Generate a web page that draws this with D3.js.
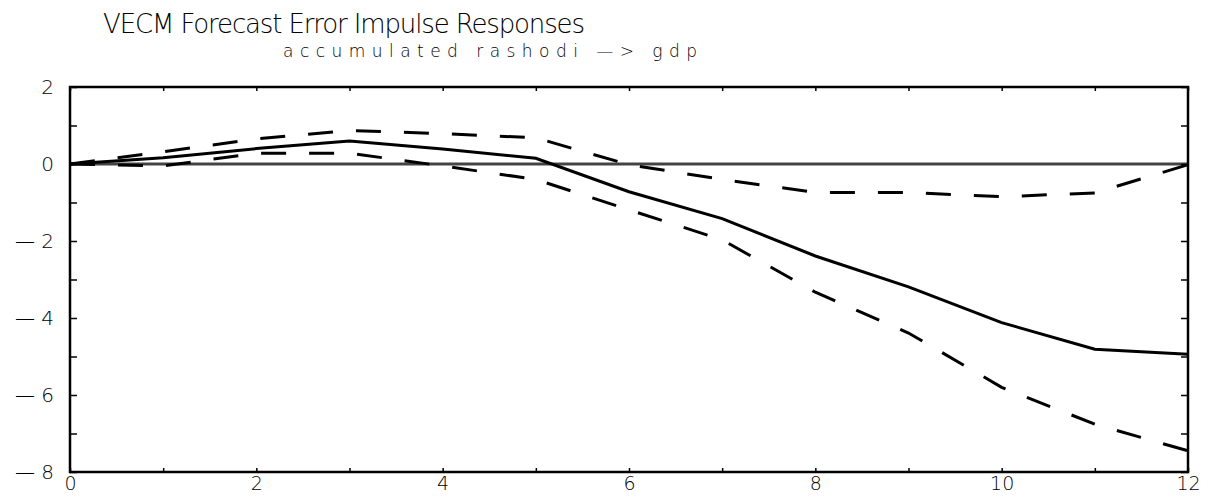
<!DOCTYPE html>
<html>
<head>
<meta charset="utf-8">
<script src="https://cdn.jsdelivr.net/npm/d3@7"></script>
<style>
  body { margin: 0; background: #fff; }
  svg text { font-family: "DejaVu Sans", sans-serif; font-weight: 200; fill: #000; }
</style>
</head>
<body>
<svg id="chart" width="1212" height="500"></svg>
<script>
// horizon 0..12
var steps = [0, 1, 2, 3, 4, 5, 6, 7, 8, 9, 10, 11, 12];
// point estimate
var response = [0, 0.16, 0.40, 0.60, 0.39, 0.15, -0.72, -1.42, -2.39, -3.19, -4.12, -4.81, -4.94];
// confidence band
var upper = [0, 0.32, 0.65, 0.87, 0.79, 0.68, -0.02, -0.40, -0.74, -0.74, -0.85, -0.75, -0.02];
var lower = [0, -0.05, 0.28, 0.28, -0.05, -0.40, -1.19, -1.97, -3.33, -4.39, -5.80, -6.76, -7.45];

var xTicks = [0, 2, 4, 6, 8, 10, 12];
var yTicks = [2, 0, -2, -4, -6, -8];

var title = "VECM Forecast Error Impulse Responses";
var subtitle = "accumulated rashodi \u2014> gdp";

var margin = {top: 87, right: 24, bottom: 28, left: 70},
    width = 1212 - margin.left - margin.right,
    height = 500 - margin.top - margin.bottom;

var svg = d3.select("#chart");

svg.append("text")
    .attr("x", 103).attr("y", 33)
    .attr("textLength", 482).attr("lengthAdjust", "spacing")
    .style("font-size", "26px")
    .text(title);

svg.append("text")
    .attr("x", 283).attr("y", 57)
    .attr("textLength", 414).attr("lengthAdjust", "spacing")
    .style("font-size", "17px")
    .text(subtitle);

var g = svg.append("g")
    .attr("transform", "translate(" + margin.left + "," + margin.top + ")");

var x = d3.scaleLinear().domain([0, 12]).range([0, width]);
var y = d3.scaleLinear().domain([-8, 2]).range([height, 0]);

// zero line
g.append("line")
    .attr("x1", 0).attr("x2", width)
    .attr("y1", y(0)).attr("y2", y(0))
    .attr("stroke", "#444").attr("stroke-width", 3);

var line = d3.line()
    .x(function(d, i) { return x(steps[i]); })
    .y(function(d) { return y(d); });

[upper, lower].forEach(function(s) {
  g.append("path")
      .datum(s)
      .attr("d", line)
      .attr("fill", "none")
      .attr("stroke", "#000")
      .attr("stroke-width", 3)
      .attr("stroke-dasharray", "25,23");
});

g.append("path")
    .datum(response)
    .attr("d", line)
    .attr("fill", "none")
    .attr("stroke", "#000")
    .attr("stroke-width", 3);

// minor ticks (every unit), inward
var minorX = d3.range(0, 13);
var minorY = d3.range(-8, 3);

g.append("g")
    .call(d3.axisBottom(x).tickValues(minorX).tickSize(-4).tickFormat(""))
    .attr("transform", "translate(0," + height + ")")
    .call(function(a) { a.select(".domain").remove(); });
g.append("g")
    .call(d3.axisTop(x).tickValues(minorX).tickSize(-4).tickFormat(""))
    .call(function(a) { a.select(".domain").remove(); });
g.append("g")
    .call(d3.axisLeft(y).tickValues(minorY).tickSize(-7).tickFormat(""))
    .call(function(a) { a.select(".domain").remove(); });
g.append("g")
    .attr("transform", "translate(" + width + ",0)")
    .call(d3.axisRight(y).tickValues(minorY).tickSize(-7).tickFormat(""))
    .call(function(a) { a.select(".domain").remove(); });
g.selectAll(".tick line").attr("stroke", "#000").attr("stroke-width", 1.5);

// labels
var xAxis = g.append("g")
    .attr("transform", "translate(0," + height + ")")
    .call(d3.axisBottom(x).tickValues(xTicks).tickSize(0).tickPadding(5));
xAxis.select(".domain").remove();
xAxis.selectAll("text").style("font-size", "19px");

var yAxis = g.append("g")
    .call(d3.axisLeft(y).tickValues(yTicks).tickSize(0).tickPadding(16)
      .tickFormat(function(d) { return d < 0 ? "\u2014 " + (-d) : d; }));
yAxis.select(".domain").remove();
yAxis.selectAll("text").style("font-size", "20px");

// frame
g.append("rect")
    .attr("width", width).attr("height", height)
    .attr("fill", "none")
    .attr("stroke", "#000").attr("stroke-width", 2.5);
</script>
</body>
</html>
